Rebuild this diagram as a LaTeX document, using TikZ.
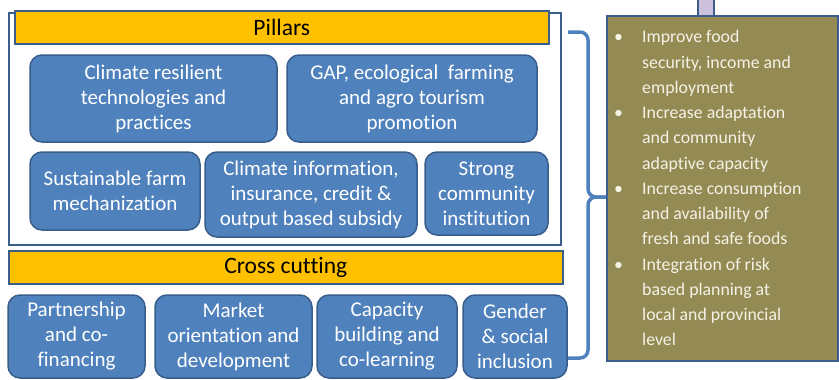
\documentclass[tikz,border=0pt]{standalone}
\usepackage{fontspec}
\setmainfont{Carlito}[Ligatures=NoCommon]
\definecolor{boxblue}{HTML}{4F81BD}
\definecolor{boxborder}{HTML}{385D8A}
\definecolor{frameblue}{HTML}{3B5E8C}
\definecolor{baryellow}{HTML}{FFC000}
\definecolor{olive}{HTML}{948A54}
\definecolor{lav}{HTML}{CCC0DA}
\definecolor{cream}{HTML}{F5F2E6}
\tikzset{
  blk/.style={rounded corners=12pt, fill=boxblue, draw=boxborder, line width=1.5pt,
    text=white, align=center, font=\fontsize{21}{25}\selectfont, inner sep=0pt},
  bar/.style={fill=baryellow, draw=frameblue, line width=1.5pt, inner sep=0pt,
    font=\fontsize{23.5}{26}\selectfont, text=black},
}
\begin{document}
\begin{tikzpicture}[x=1pt,y=-1pt]
\useasboundingbox (0,0) rectangle (839,380);
% pillars frame
\node[draw=frameblue, line width=1.5pt, minimum width=552pt, minimum height=232pt, anchor=north west, inner sep=0pt] (frame) at (8,12) {};
\node[bar, minimum width=534pt, minimum height=33pt, anchor=north west] (pillars) at (14,10) {Pillars};
% pillar boxes
\node[blk, minimum width=247pt, minimum height=87pt] (b1) at (153.5,98.5) {Climate resilient\\technologies and\\practices};
\node[blk, minimum width=250pt, minimum height=87pt] (b2) at (412,98.5) {GAP, ecological\ \ farming\\and agro tourism\\promotion};
\node[blk, minimum width=170pt, minimum height=78pt] (b3) at (115,191) {Sustainable farm\\mechanization};
\node[blk, minimum width=212pt, minimum height=85pt] (b4) at (311,194.5) {Climate information,\\insurance, credit \&\\output based subsidy};
\node[blk, minimum width=123pt, minimum height=83pt] (b5) at (486.5,193.5) {Strong\\community\\institution};
% cross cutting
\node[bar, minimum width=554pt, minimum height=33pt, anchor=north west] (cross) at (8,250) {Cross cutting};
\node[blk, minimum width=137pt, minimum height=83pt] (c1) at (76.5,336.5) {Partnership\\and co-\\financing};
\node[blk, minimum width=157pt, minimum height=83pt] (c2) at (233.5,336.5) {Market\\orientation and\\development};
\node[blk, minimum width=140pt, minimum height=83pt] (c3) at (387,336.5) {Capacity\\building and\\co-learning};
\node[blk, minimum width=104pt, minimum height=83pt] (c4) at (515,336.5) {Gender\\\& social\\inclusion};
% lavender stub
\node[fill=lav, draw=frameblue, line width=1.5pt, minimum width=16pt, minimum height=17pt, inner sep=0pt, anchor=north west] (stub) at (697,-2) {};
% outcomes box
\node[fill=olive, draw=frameblue, line width=1.5pt, minimum width=231pt, minimum height=345pt, anchor=north west, inner sep=0pt] (out) at (606,15) {};
\node[anchor=north west, inner sep=0pt, text=cream, font=\fontsize{17.8}{25.25}\selectfont, align=left] (outtext) at (614,25) {%
\renewcommand\arraystretch{1}%
\begin{tabular}{@{}p{28pt}@{}l@{}}
\textbullet & Improve food\\
 & security, income and\\
 & employment\\
\textbullet & Increase adaptation\\
 & and community\\
 & adaptive capacity\\
\textbullet & Increase consumption\\
 & and availability of\\
 & fresh and safe foods\\
\textbullet & Integration of risk\\
 & based planning at\\
 & local and provincial\\
 & level
\end{tabular}};
% brace
\coordinate (bt) at (568,32);
\coordinate (bb) at (568,358);
\draw[boxblue, line width=3.5pt, rounded corners=8pt]
  (bt) -- (588,32) -- (588,197) -- (out.west |- 0,197);
\draw[boxblue, line width=3.5pt, rounded corners=8pt]
  (bb) -- (588,358) -- (588,197) -- (out.west |- 0,197);
\end{tikzpicture}
\end{document}
